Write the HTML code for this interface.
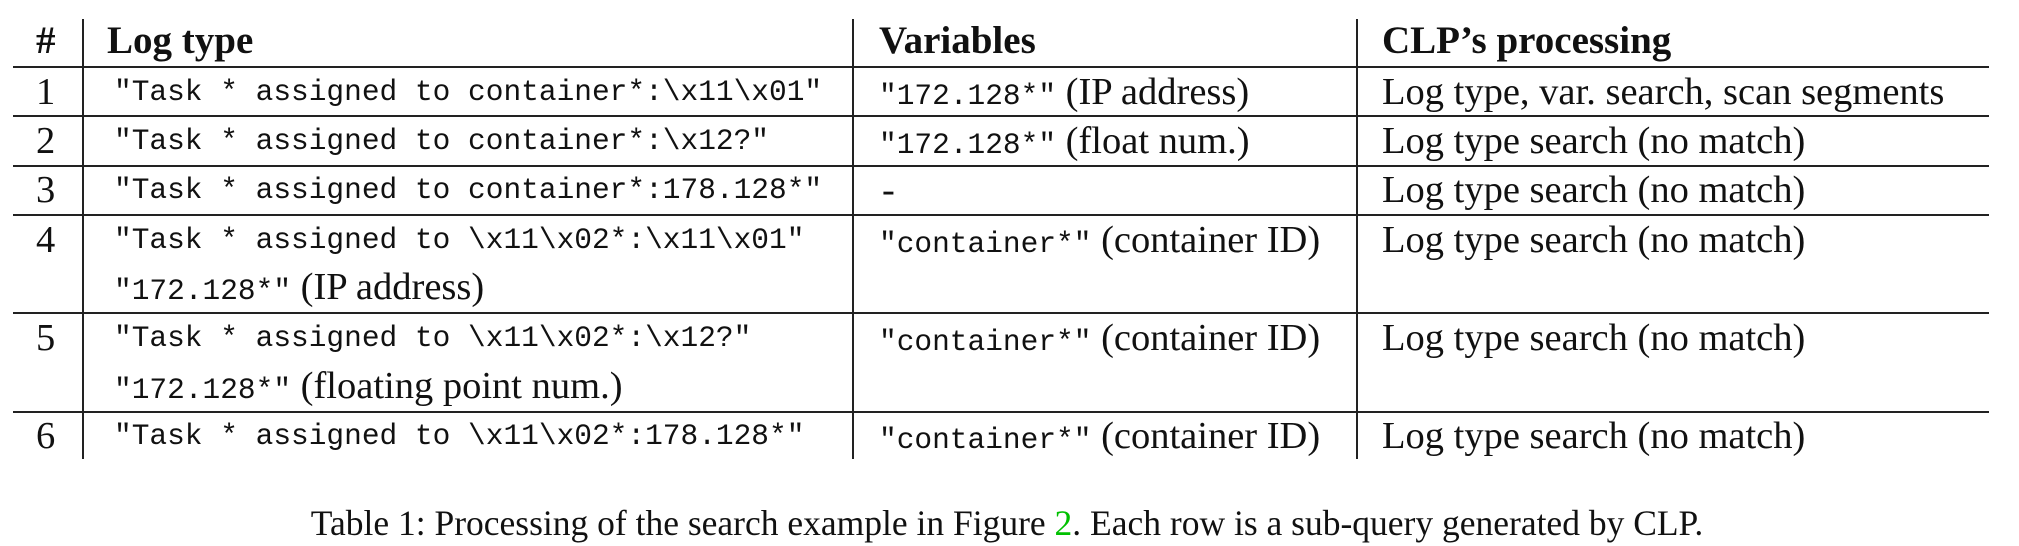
<!DOCTYPE html>
<html><head><meta charset="utf-8"><style>
body{margin:0;width:2019px;height:546px;background:#fff;position:relative;overflow:hidden;font-family:"Liberation Serif",serif;color:#111}
.t{position:absolute;line-height:40px;white-space:nowrap;font-size:38.5px}
.m{font-family:"Liberation Mono",monospace;font-size:29.5px}
.b{font-weight:bold;font-size:39px}
.h{position:absolute;left:13px;width:1976px;height:2px;background:#222}
.v{position:absolute;top:19px;height:440px;width:2px;background:#222}
</style></head><body>
<div>
<div class="v" style="left:82px"></div>
<div class="v" style="left:852px"></div>
<div class="v" style="left:1356px"></div>
<div class="h" style="top:66px"></div>
<div class="h" style="top:115px"></div>
<div class="h" style="top:165px"></div>
<div class="h" style="top:214px"></div>
<div class="h" style="top:312px"></div>
<div class="h" style="top:411px"></div>

<div class="t b" style="left:36px;top:21px">#</div>
<div class="t b" style="left:107px;top:21px">Log type</div>
<div class="t b" style="left:879px;top:21px">Variables</div>
<div class="t b" style="left:1382px;top:21px">CLP’s processing</div>

<div class="t" style="left:36px;top:72px">1</div>
<div class="t m" style="left:114px;top:72px">"Task * assigned to container*:\x11\x01"</div>
<div class="t" style="left:879px;top:72px"><span class="m">"172.128*"</span> (IP address)</div>
<div class="t" style="left:1382px;top:72px">Log type, var. search, scan segments</div>

<div class="t" style="left:36px;top:121px">2</div>
<div class="t m" style="left:114px;top:121px">"Task * assigned to container*:\x12?"</div>
<div class="t" style="left:879px;top:121px"><span class="m">"172.128*"</span> (float num.)</div>
<div class="t" style="left:1382px;top:121px">Log type search (no match)</div>

<div class="t" style="left:36px;top:170px">3</div>
<div class="t m" style="left:114px;top:170px">"Task * assigned to container*:178.128*"</div>
<div class="t" style="left:882px;top:170px">-</div>
<div class="t" style="left:1382px;top:170px">Log type search (no match)</div>

<div class="t" style="left:36px;top:220px">4</div>
<div class="t m" style="left:114px;top:220px">"Task * assigned to \x11\x02*:\x11\x01"</div>
<div class="t" style="left:114px;top:267px"><span class="m">"172.128*"</span> (IP address)</div>
<div class="t" style="left:879px;top:220px"><span class="m">"container*"</span> (container ID)</div>
<div class="t" style="left:1382px;top:220px">Log type search (no match)</div>

<div class="t" style="left:36px;top:318px">5</div>
<div class="t m" style="left:114px;top:318px">"Task * assigned to \x11\x02*:\x12?"</div>
<div class="t" style="left:114px;top:366px"><span class="m">"172.128*"</span> (floating point num.)</div>
<div class="t" style="left:879px;top:318px"><span class="m">"container*"</span> (container ID)</div>
<div class="t" style="left:1382px;top:318px">Log type search (no match)</div>

<div class="t" style="left:36px;top:416px">6</div>
<div class="t m" style="left:114px;top:416px">"Task * assigned to \x11\x02*:178.128*"</div>
<div class="t" style="left:879px;top:416px"><span class="m">"container*"</span> (container ID)</div>
<div class="t" style="left:1382px;top:416px">Log type search (no match)</div>
</div>

<div class="t" style="left:0;width:2014px;text-align:center;top:503px;font-size:35.5px">Table 1: Processing of the search example in Figure <span style="color:#00c000">2</span>. Each row is a sub-query generated by CLP.</div>
</body></html>
